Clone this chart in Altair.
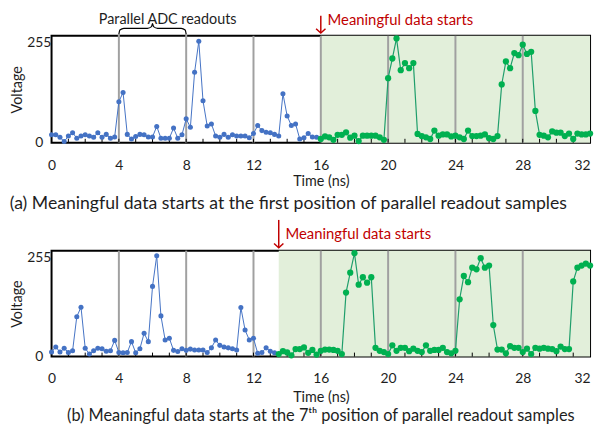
import altair as alt
import pandas as pd

STEP = 0.25
X_MAX = 32
Y_MAX = 255
DIVIDERS = [4, 8, 12, 16, 20, 24, 28]
MINOR_TICKS = list(range(1, 32))
X_LABELS = [0, 4, 8, 12, 16, 20, 24, 28, 32]
Y_LABELS = [0, 255]

# ---- panel (a) samples, one every 0.25 ns ----
top_blue = [19, 19, 13, 3, 16, 24, 11, 16, 19, 16, 13, 24, 13, 20, 11, 14,
            98, 120, 20, 9, 15, 20, 19, 14, 14, 39, 11, 11, 11, 35, 11, 19,
            57, 37, 168, 242, 100, 40, 45, 16, 13, 20, 13, 19, 16, 16, 16, 12,
            22, 41, 29, 25, 24, 20, 16, 117, 64, 41, 45, 9, 12, 22, 14, 13]
top_green = [9, 15, 13, 7, 19, 19, 25, 12, 17, 4, 17, 17, 17, 17, 13, 7,
             154, 201, 249, 173, 190, 178, 190, 21, 16, 13, 9, 29, 17, 20, 20, 15,
             17, 13, 9, 29, 16, 16, 17, 20, 11, 9, 16, 139, 194, 178, 214, 209,
             234, 212, 217, 76, 19, 17, 13, 27, 24, 24, 16, 22, 9, 22, 20, 20, 22]
top_green_start = 16.0

# ---- panel (b) ----
bot_blue = [11, 23, 11, 20, 10, 14, 96, 119, 20, 6, 14, 20, 19, 13, 14, 39,
            10, 9, 10, 36, 9, 19, 56, 36, 169, 243, 98, 40, 44, 15, 12, 19,
            15, 18, 16, 16, 16, 10, 21, 40, 27, 23, 21, 19, 16, 118, 64, 40,
            44, 8, 10, 21, 13, 9]
bot_green = [6, 13, 10, 3, 18, 18, 22, 9, 16, 5,
             14, 17, 17, 16, 14, 6, 154, 202, 249, 173, 191, 178, 191, 21, 14, 11,
             6, 27, 14, 21, 21, 13, 19, 14, 11, 27, 14, 16, 16, 21, 11, 8,
             14, 138, 194, 179, 214, 210, 237, 214, 219, 76, 17, 17, 8, 25, 21, 21,
             11, 19, 6, 21, 19, 21, 19, 18, 13, 24, 18, 18, 181, 214, 219, 224, 219]
bot_green_start = 13.5

# curly brace over the parallel ADC readouts (top panel)
brace_t = [4.0, 4.06, 4.3, 5.7, 5.94, 6.0, 6.06, 6.3, 7.7, 7.94, 8.0]
brace_v = [259, 269, 273, 273, 277, 284, 277, 273, 273, 269, 259]

BLUE = "#4472C4"
GREEN = "#00B050"
GREEN_LINE = "#1F9E6B"
SHADE = "#E2EFDA"
GRID = "#A0A0A0"
RED = "#C00000"
TXT = "#1e1e1e"
FONT = "Lato"


def panel(blue, green, g_start, w, h, label_pad, title_pad, caption, cap_size, cap_anchor,
          cap_frame, cap_offset, arrow_top, text_v, divider_tops, top_extra):
    xs = alt.X("t:Q", scale=alt.Scale(domain=[0, X_MAX], nice=False, zero=False),
               axis=alt.Axis(values=X_LABELS, ticks=False, domain=False, grid=False,
                             labelFontSize=14, labelPadding=label_pad, labelColor=TXT,
                             labelFlush=False,
                             labelAlign={"condition": {"test": "datum.value == 32", "value": "right"},
                                         "value": "center"},
                             title="Time (ns)", titleFontSize=14.5, titleFontWeight="normal",
                             titleColor=TXT, titlePadding=title_pad))
    ys = alt.Y("v:Q", scale=alt.Scale(domain=[0, Y_MAX], nice=False),
               axis=alt.Axis(values=Y_LABELS, ticks=False, domain=False, grid=False,
                             labelFontSize=14, labelPadding=13, labelColor=TXT,
                             labelAlign="center", labelFlush=False,
                             labelBaseline={"condition": {"test": "datum.value == 255", "value": "top"},
                                            "value": "middle"},
                             title="Voltage", titleFontSize=14.5, titleFontWeight="normal",
                             titleColor=TXT, titlePadding=2))

    tb = [i * STEP for i in range(len(blue))]
    tg = [g_start + i * STEP for i in range(len(green))]
    df_blue = pd.DataFrame({"t": tb, "v": blue})
    df_blue_line = pd.DataFrame({"t": tb + tg[:1], "v": blue + green[:1]})
    df_green = pd.DataFrame({"t": tg, "v": green})

    shade = alt.Chart(pd.DataFrame({"t": [g_start], "t2": [X_MAX]})).mark_rect(
        color=SHADE).encode(x=xs, x2="t2:Q", y=alt.value(0), y2=alt.value(h))
    dividers = alt.Chart(pd.DataFrame({"t": DIVIDERS, "v": [0] * len(DIVIDERS),
                                       "v2": divider_tops})).mark_rule(
        color=GRID, strokeWidth=2).encode(x=xs, y=ys, y2="v2:Q")
    minor = alt.Chart(pd.DataFrame({"t": MINOR_TICKS})).mark_rule(
        color="black", strokeWidth=1).encode(x=xs, y=alt.value(h), y2=alt.value(h - 4))
    bline = alt.Chart(df_blue_line).mark_line(color=BLUE, strokeWidth=1).encode(x=xs, y=ys)
    bpts = alt.Chart(df_blue).mark_circle(color=BLUE, size=26, opacity=1).encode(x=xs, y=ys)
    gline = alt.Chart(df_green).mark_line(color=GREEN_LINE, strokeWidth=1.2).encode(x=xs, y=ys)
    gpts = alt.Chart(df_green).mark_circle(color=GREEN, size=40, opacity=1).encode(x=xs, y=ys)

    arrow = alt.Chart(pd.DataFrame({"t": [g_start], "v": [262], "v2": [arrow_top]})).mark_rule(
        color=RED, strokeWidth=1.5).encode(x=xs, y=ys, y2="v2:Q")
    head = alt.Chart(pd.DataFrame({"t": [g_start], "v": [262]})).mark_point(
        shape="M -1 -0.9 L 0 0 L 1 -0.9", filled=False, color=RED, strokeWidth=1.5,
        size=90, opacity=1).encode(x=xs, y=ys)
    note = alt.Chart(pd.DataFrame({"t": [g_start + 0.4], "v": [text_v],
                                   "label": ["Meaningful data starts"]})).mark_text(
        align="left", baseline="middle", color=RED, fontSize=15, font=FONT).encode(
        x=xs, y=ys, text="label:N")

    layers = [shade, dividers, minor, bline, gline, bpts, gpts, arrow, head, note] + top_extra(xs, ys)
    return alt.layer(*layers).properties(
        width=w, height=h,
        title=alt.TitleParams(text=caption, orient="bottom", anchor=cap_anchor, frame=cap_frame,
                              fontSize=cap_size, font=FONT, fontWeight="normal", color=TXT,
                              offset=cap_offset))


def top_extra(xs, ys):
    brace = alt.Chart(pd.DataFrame({"t": brace_t, "v": brace_v})).mark_line(
        color="black", strokeWidth=1.2, interpolate="monotone").encode(x=xs, y=ys)
    lab = alt.Chart(pd.DataFrame({"t": [6.9], "v": [293], "label": ["Parallel ADC readouts"]})).mark_text(
        align="center", baseline="middle", color=TXT, fontSize=14.5, font=FONT).encode(
        x=xs, y=ys, text="label:N")
    return [brace, lab]


def no_extra(xs, ys):
    return []


top_div_tops = [259 if d in (4, 8) else 255 for d in DIVIDERS]
bot_div_tops = [255 for d in DIVIDERS]

top = panel(top_blue, top_green, top_green_start, 544, 108, 16, 2,
            "(a) Meaningful data starts at the first position of parallel readout samples", 17.8,
            "start", "bounds", 7, 303, 293, top_div_tops, top_extra)
bottom = panel(bot_blue, bot_green, bot_green_start, 544, 107, 15, 5,
               "(b) Meaningful data starts at the 7ᵗʰ position of parallel readout samples", 16.5,
               "middle", "group", 5, 329, 296, bot_div_tops, no_extra)

chart = alt.vconcat(top, bottom, spacing=4).properties(
    padding={"left": 0, "top": 0, "right": 0, "bottom": 0}
).configure(font=FONT).configure_view(stroke="black", strokeWidth=2)

chart.save("out.html", embed_options={"renderer": "svg", "actions": False})
